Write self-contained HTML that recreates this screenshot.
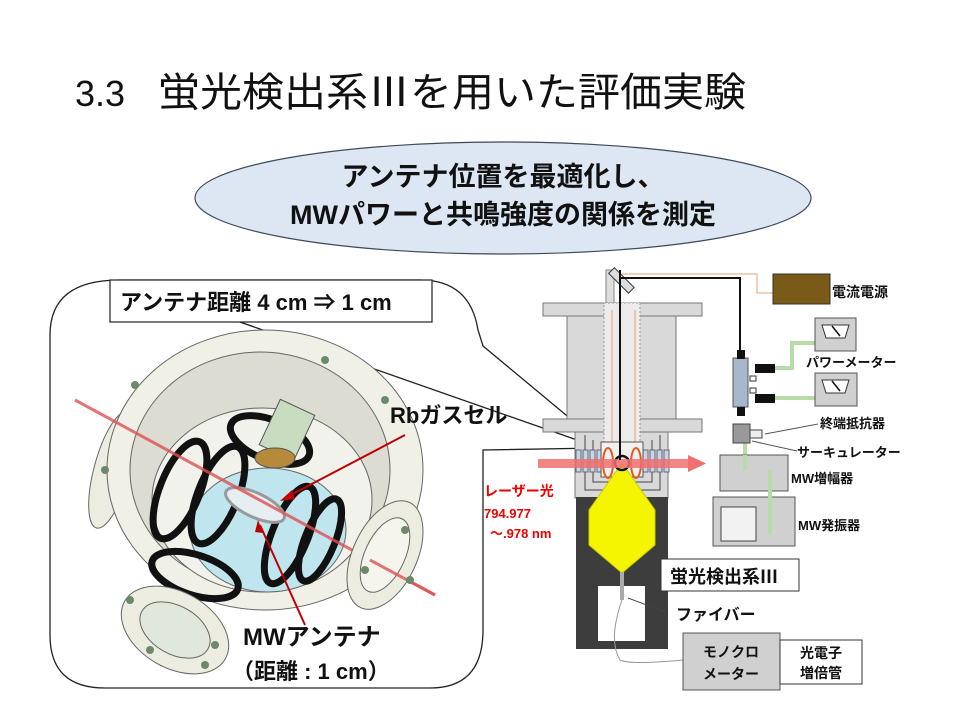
<!DOCTYPE html>
<html><head><meta charset="utf-8"><style>
html,body{margin:0;padding:0;background:#fff}
svg{display:block}
text{font-family:"Liberation Sans","Noto Sans CJK JP",sans-serif}
</style></head><body>
<svg width="960" height="720" viewBox="0 0 960 720" xmlns="http://www.w3.org/2000/svg">
<rect width="960" height="720" fill="#fff"/>
<text x="75" y="106" font-size="36" fill="#111">3.3</text>
<text x="158" y="106" font-size="40" fill="#111" textLength="588" lengthAdjust="spacingAndGlyphs">蛍光検出系Ⅲを用いた評価実験</text>
<ellipse cx="503" cy="198" rx="308" ry="56" fill="#dde7f3" stroke="#3b4a5c" stroke-width="1.2"/>
<text x="503" y="186" font-size="27" font-weight="bold" text-anchor="middle" fill="#111">アンテナ位置を最適化し、</text>
<text x="503" y="224" font-size="27" font-weight="bold" text-anchor="middle" fill="#111">MWパワーと共鳴強度の関係を測定</text>

<path d="M120 280 L420 280 Q470 280 478 330 L483 346 L602 445 M600 448 L483 450 L483 630 Q483 688 430 688 L105 688 Q50 688 50 635 L50 335 Q50 280 120 280 Z" fill="none" stroke="#222" stroke-width="1.3"/>

<g stroke="#666" stroke-width="1">
<ellipse cx="112" cy="470" rx="18" ry="60" transform="rotate(15 112 470)" fill="#ecece0"/>
<ellipse cx="265" cy="470" rx="158" ry="140" fill="#f0f0e6"/>
<ellipse cx="260" cy="470" rx="130" ry="118" fill="#dcdcd2"/>
<ellipse cx="262" cy="500" rx="110" ry="92" fill="#f2f2ec"/>
<ellipse cx="268" cy="530" rx="78" ry="62" fill="#bfe6ee"/>
</g>
<g fill="none" stroke="#111" stroke-width="7">
<ellipse cx="180" cy="490" rx="20" ry="52" transform="rotate(22 180 490)"/>
<ellipse cx="218" cy="495" rx="20" ry="52" transform="rotate(22 218 495)"/>
<ellipse cx="270" cy="440" rx="42" ry="20" transform="rotate(22 270 440)"/>
<ellipse cx="195" cy="575" rx="45" ry="20" transform="rotate(18 195 575)"/>
<ellipse cx="290" cy="535" rx="18" ry="52" transform="rotate(22 290 535)"/>
<ellipse cx="320" cy="540" rx="15" ry="44" transform="rotate(22 320 540)"/>
</g>
<rect x="268" y="405" width="38" height="50" fill="#c8dcc0" stroke="#555" transform="rotate(25 287 430)"/>
<ellipse cx="275" cy="458" rx="20" ry="10" fill="#b58a3a" stroke="#555"/>
<ellipse cx="255" cy="505" rx="32" ry="12" transform="rotate(25 255 505)" fill="#e6eef2" stroke="#999" stroke-width="3"/>
<line x1="75" y1="400" x2="435" y2="595" stroke="#e05050" stroke-width="3" opacity="0.8"/>
<g stroke="#666" stroke-width="1">
<ellipse cx="175" cy="630" rx="58" ry="38" transform="rotate(30 175 630)" fill="#ecece0"/>
<ellipse cx="175" cy="630" rx="38" ry="24" transform="rotate(30 175 630)" fill="#e0e8dc"/>
<ellipse cx="385" cy="555" rx="32" ry="58" transform="rotate(25 385 555)" fill="#ecece0"/>
<ellipse cx="385" cy="555" rx="20" ry="40" transform="rotate(25 385 555)" fill="#f5f5ee"/>
</g>
<line x1="370" y1="560" x2="435" y2="595" stroke="#e05050" stroke-width="3" opacity="0.8"/>
<g fill="#6a8a6a">
<circle cx="135" cy="385" r="4"/><circle cx="105" cy="470" r="4"/><circle cx="130" cy="600" r="4"/><circle cx="150" cy="650" r="4"/><circle cx="205" cy="665" r="4"/><circle cx="215" cy="645" r="4"/><circle cx="405" cy="530" r="4"/><circle cx="410" cy="580" r="4"/><circle cx="365" cy="570" r="4"/><circle cx="325" cy="360" r="4"/><circle cx="385" cy="400" r="4"/>
</g>
<rect x="110" y="280" width="322" height="42" fill="#fff" stroke="#222" stroke-width="1.2"/>
<text x="120" y="310" font-size="22" font-weight="bold" fill="#111">アンテナ距離 4 cm ⇒ 1 cm</text>
<text x="390" y="423" font-size="22" font-weight="bold" fill="#111">Rbガスセル</text>
<line x1="405" y1="435" x2="285" y2="498" stroke="#c00000" stroke-width="2"/>
<polygon points="280,501 292,490 295,499" fill="#c00000"/>
<line x1="305" y1="625" x2="260" y2="525" stroke="#c00000" stroke-width="2"/>
<polygon points="258,520 263,533 255,532" fill="#c00000"/>
<text x="243" y="645" font-size="24" font-weight="bold" fill="#111">MWアンテナ</text>
<text x="232" y="679" font-size="22" font-weight="bold" fill="#111">（距離 : 1 cm）</text>

<rect x="606" y="270" width="8" height="34" fill="#ddd" stroke="#888"/>
<rect x="608" y="275" width="28" height="8" fill="#ddd" stroke="#333" transform="rotate(45 620 279)"/>
<rect x="543" y="303" width="159" height="13" fill="#d9d9d9" stroke="#777"/>
<rect x="567" y="316" width="109" height="103" fill="#d9d9d9" stroke="#777"/>
<rect x="543" y="419" width="159" height="13" fill="#d9d9d9" stroke="#777"/>
<rect x="575" y="432" width="93" height="66" fill="#d9d9d9" stroke="#777"/>
<rect x="604" y="303" width="36" height="160" fill="#ececec" stroke="#999" stroke-dasharray="2,2"/>
<path d="M612 310 L612 450 M635 310 L635 450" stroke="#e8a070" stroke-width="1"/>
<path d="M585 435 V490 H660 V435 M593 440 V482 H652 V440" fill="none" stroke="#444"/>
<g fill="#c8d4e8" stroke="#667">
<rect x="576" y="450" width="5" height="22"/><rect x="583" y="450" width="5" height="22"/><rect x="590" y="450" width="5" height="22"/><rect x="597" y="450" width="5" height="22"/>
<rect x="643" y="450" width="5" height="22"/><rect x="650" y="450" width="5" height="22"/><rect x="657" y="450" width="5" height="22"/><rect x="664" y="450" width="5" height="22"/>
</g>
<rect x="601" y="442" width="42" height="35" fill="#f0f0f0" stroke="#555"/>
<ellipse cx="608" cy="463" rx="5" ry="15" fill="none" stroke="#e05a20" stroke-width="2"/>
<ellipse cx="636" cy="463" rx="5" ry="15" fill="none" stroke="#e05a20" stroke-width="2"/>
<rect x="576" y="497" width="92" height="152" fill="#3d3d3d"/>
<rect x="598" y="586" width="47" height="55" fill="#fff"/>
<polygon points="622,463 655,510 655,545 622,573 589,545 589,510" fill="#f5f500" stroke="#cc0" stroke-width="1"/>
<circle cx="622" cy="463" r="7" fill="none" stroke="#111" stroke-width="2.5"/>
<rect x="538" y="459" width="150" height="9" fill="#f07070" opacity="0.85"/>
<polygon points="688,455 706,463.5 688,472" fill="#f07070"/>
<line x1="620" y1="270" x2="620" y2="460" stroke="#111" stroke-width="2"/>
<path d="M620 278 H740 V350" fill="none" stroke="#111" stroke-width="2"/>
<path d="M622 274 H757 V293 H773" fill="none" stroke="#e8a070" stroke-width="1"/>
<rect x="773" y="274" width="57" height="30" fill="#7a5a18" stroke="#333"/>
<text x="832" y="297" font-size="14" font-weight="bold" fill="#111">電流電源</text>
<path d="M775 368 H792 V343 H815 M775 398 H815" fill="none" stroke="#b8dca8" stroke-width="4"/>
<line x1="745" y1="443" x2="745" y2="465" stroke="#b8dca8" stroke-width="4"/>
<line x1="770" y1="480" x2="770" y2="535" stroke="#b8dca8" stroke-width="4"/>
<rect x="733" y="358" width="15" height="49" fill="#a8b8cc" stroke="#555"/>
<rect x="737" y="350" width="8" height="9" fill="#111"/>
<rect x="737" y="407" width="8" height="9" fill="#111"/>
<rect x="755" y="364" width="20" height="9" fill="#111"/><rect x="755" y="394" width="20" height="9" fill="#111"/>
<rect x="750" y="376" width="6" height="5" fill="#fff" stroke="#333"/><rect x="750" y="388" width="6" height="5" fill="#fff" stroke="#333"/>
<rect x="815" y="318" width="41" height="33" fill="#d0d0d0" stroke="#555"/>
<polygon points="822,325 849,325 845,338 826,338" fill="#fff" stroke="#333"/>
<line x1="832" y1="326" x2="840" y2="336" stroke="#111" stroke-width="1.5"/>
<rect x="815" y="373" width="42" height="33" fill="#d0d0d0" stroke="#555"/>
<polygon points="822,380 849,380 845,393 826,393" fill="#fff" stroke="#333"/>
<line x1="832" y1="381" x2="840" y2="391" stroke="#111" stroke-width="1.5"/>
<text x="806" y="367" font-size="13" font-weight="bold" fill="#111">パワーメーター</text>
<rect x="733" y="424" width="17" height="19" fill="#999" stroke="#444"/>
<rect x="750" y="430" width="12" height="8" fill="#eee" stroke="#444"/>
<text x="820" y="428" font-size="13" font-weight="bold" fill="#111">終端抵抗器</text>
<line x1="818" y1="424" x2="765" y2="434" stroke="#555"/>
<text x="797" y="457" font-size="13" font-weight="bold" fill="#111">サーキュレーター</text>
<line x1="797" y1="451" x2="752" y2="441" stroke="#555"/>
<rect x="720" y="455" width="68" height="36" fill="#d0d0d0" stroke="#555"/>
<line x1="745" y1="455" x2="745" y2="470" stroke="#b8dca8" stroke-width="4"/>
<text x="791" y="483" font-size="13" font-weight="bold" fill="#111">MW増幅器</text>
<rect x="713" y="497" width="82" height="49" fill="#d0d0d0" stroke="#555"/>
<rect x="721" y="507" width="35" height="34" fill="#f2f2f2" stroke="#444"/>
<line x1="770" y1="470" x2="770" y2="535" stroke="#b8dca8" stroke-width="4"/>
<text x="798" y="530" font-size="13" font-weight="bold" fill="#111">MW発振器</text>
<text x="484" y="496" font-size="14" font-weight="bold" fill="#e00">レーザー光</text>
<text x="484" y="518" font-size="13" font-weight="bold" fill="#e00">794.977</text>
<text x="490" y="538" font-size="13" font-weight="bold" fill="#e00">～.978 nm</text>
<rect x="661" y="559" width="138" height="32" fill="#fff" stroke="#333"/>
<text x="670" y="583" font-size="18" font-weight="bold" fill="#111">蛍光検出系Ⅲ</text>
<rect x="620" y="572" width="4" height="28" fill="#aaa"/>
<path d="M622 600 Q608 640 620 660 Q630 665 683 660" fill="none" stroke="#999"/>
<line x1="665" y1="612" x2="628" y2="598" stroke="#444"/>
<text x="676" y="620" font-size="16" font-weight="bold" fill="#111">ファイバー</text>
<rect x="683" y="633" width="97" height="57" fill="#d0d0d0" stroke="#555"/>
<text x="731" y="657" font-size="14" font-weight="bold" text-anchor="middle" fill="#111">モノクロ</text>
<text x="731" y="679" font-size="14" font-weight="bold" text-anchor="middle" fill="#111">メーター</text>
<rect x="780" y="640" width="82" height="44" fill="#fff" stroke="#333"/>
<text x="821" y="658" font-size="14" font-weight="bold" text-anchor="middle" fill="#111">光電子</text>
<text x="821" y="678" font-size="14" font-weight="bold" text-anchor="middle" fill="#111">増倍管</text>
</svg>
</body></html>
